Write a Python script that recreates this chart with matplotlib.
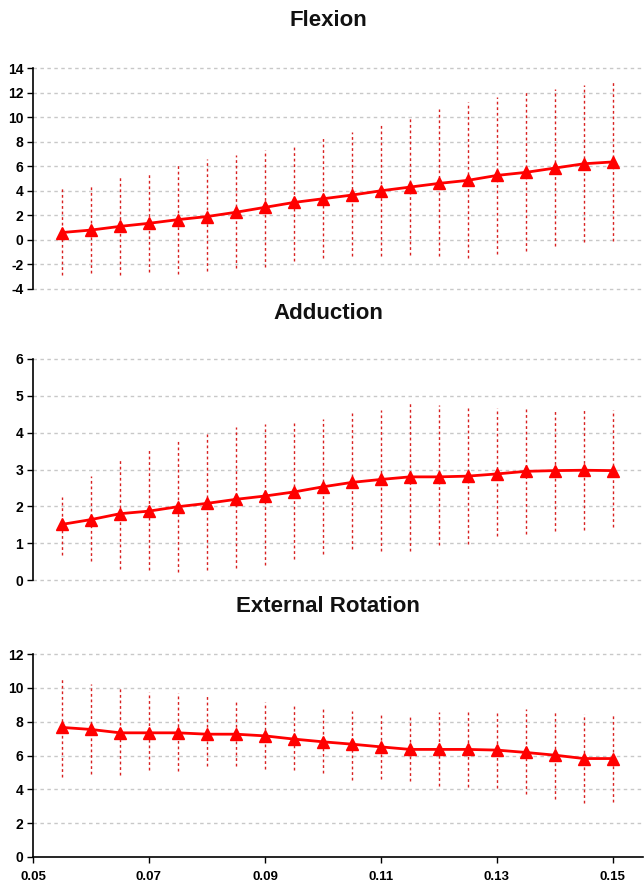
import numpy as np
import matplotlib.pyplot as plt

# Data
x = [0.055, 0.060, 0.065, 0.070, 0.075, 0.080, 0.085, 0.090, 0.095, 0.100,
     0.105, 0.110, 0.115, 0.120, 0.125, 0.130, 0.135, 0.140, 0.145, 0.150]

flex_mean = [0.6, 0.8, 1.1, 1.35, 1.65, 1.9, 2.25, 2.65, 3.05, 3.35,
             3.65, 4.0, 4.3, 4.6, 4.85, 5.25, 5.5, 5.85, 6.2, 6.35]
flex_hi = [4.25, 4.45, 5.2, 5.55, 6.2, 6.55, 6.9, 7.3, 7.7, 8.3,
           8.8, 9.4, 9.95, 10.7, 11.25, 11.65, 12.05, 12.3, 12.65, 13.0]
flex_lo = [-2.9, -2.7, -2.9, -2.65, -2.8, -2.55, -2.3, -2.2, -1.7, -1.5,
           -1.35, -1.35, -1.25, -1.35, -1.45, -1.15, -0.9, -0.5, -0.15, -0.1]

add_mean = [1.51, 1.64, 1.8, 1.87, 1.99, 2.08, 2.19, 2.28, 2.39, 2.53,
            2.65, 2.73, 2.8, 2.8, 2.82, 2.88, 2.95, 2.97, 2.98, 2.97]
add_hi = [2.26, 2.82, 3.3, 3.57, 3.83, 3.97, 4.16, 4.24, 4.26, 4.38,
          4.53, 4.62, 4.8, 4.74, 4.67, 4.67, 4.64, 4.65, 4.65, 4.62]
add_lo = [0.67, 0.51, 0.31, 0.26, 0.22, 0.27, 0.33, 0.42, 0.56, 0.7,
          0.83, 0.8, 0.78, 0.94, 0.97, 1.19, 1.26, 1.33, 1.35, 1.45]

ext_mean = [7.66, 7.54, 7.34, 7.34, 7.34, 7.26, 7.26, 7.16, 6.97, 6.81,
            6.67, 6.51, 6.36, 6.36, 6.36, 6.32, 6.18, 6.02, 5.82, 5.82]
ext_hi = [10.66, 10.22, 10.0, 9.77, 9.67, 9.51, 9.24, 9.17, 8.98, 8.82,
          8.64, 8.49, 8.33, 8.59, 8.69, 8.64, 8.74, 8.64, 8.45, 8.39]
ext_lo = [4.74, 4.93, 4.84, 5.13, 5.09, 5.37, 5.37, 5.23, 5.13, 4.97,
          4.58, 4.64, 4.5, 4.18, 4.14, 4.05, 3.75, 3.4, 3.2, 3.26]

titles = ['Flexion', 'Adduction', 'External Rotation']
ylims = [(-4, 14), (0, 6), (0, 12)]
ysteps = [2, 1, 2]
xticks = [0.05, 0.07, 0.09, 0.11, 0.13, 0.15]

W, H = 644, 884
fig = plt.figure(figsize=(W / 100, H / 100), dpi=100)
fig.patch.set_facecolor('white')

# axes boxes in pixels: (top, bottom)
boxes = [(68, 289), (359, 580), (654, 857)]
title_y = [20, 313, 607]
left, right = 33, 643

series = [(flex_mean, flex_lo, flex_hi),
          (add_mean, add_lo, add_hi),
          (ext_mean, ext_lo, ext_hi)]

red = '#ff0000'
for i, (mean, lo, hi) in enumerate(series):
    top, bot = boxes[i]
    ax = fig.add_axes([left / W, 1 - bot / H, (right - left) / W, (bot - top) / H])
    ax.set_xlim(0.05, 0.1552)
    ax.set_ylim(*ylims[i])
    yt = np.arange(ylims[i][0], ylims[i][1] + 0.01, ysteps[i])
    ax.set_yticks(yt)
    ax.set_yticklabels(['%g' % v for v in yt])
    for v in yt:
        if i == 2 and v == ylims[i][0]:
            continue
        ax.axhline(v, color='#c8c8c8', lw=1.0, ls=(0, (2.5, 2.5)), zorder=0, clip_on=False)

    ax.vlines(x, lo, hi, colors='#d82020', lw=1.0, linestyles=(0, (2, 2)), zorder=2)
    ax.plot(x, mean, color=red, lw=2, marker='^', ms=9, mfc=red, mec=red, zorder=3)

    for s in ['top', 'right']:
        ax.spines[s].set_visible(False)
    ax.spines['left'].set_linewidth(1.2)
    ax.tick_params(axis='y', length=4, width=1, pad=3)
    for lab in ax.get_yticklabels():
        lab.set_fontfamily('Liberation Sans')
        lab.set_fontweight('bold')
        lab.set_fontsize(10)
    if i < 2:
        ax.spines['bottom'].set_visible(False)
        ax.set_xticks([])
    else:
        ax.spines['bottom'].set_linewidth(1.2)
        ax.set_xticks(xticks)
        ax.set_xticklabels(['%.2f' % v for v in xticks])
        ax.tick_params(axis='x', length=4, width=1, pad=6)
        for lab in ax.get_xticklabels():
            lab.set_fontfamily('Liberation Sans')
            lab.set_fontweight('bold')
            lab.set_fontsize(9.5)

    fig.text(328 / W, 1 - title_y[i] / H, titles[i],
             ha='center', va='center', fontsize=16, fontweight='bold',
             family='Liberation Sans', color='#111111')

fig.savefig('out.png', dpi=100, facecolor='white')
